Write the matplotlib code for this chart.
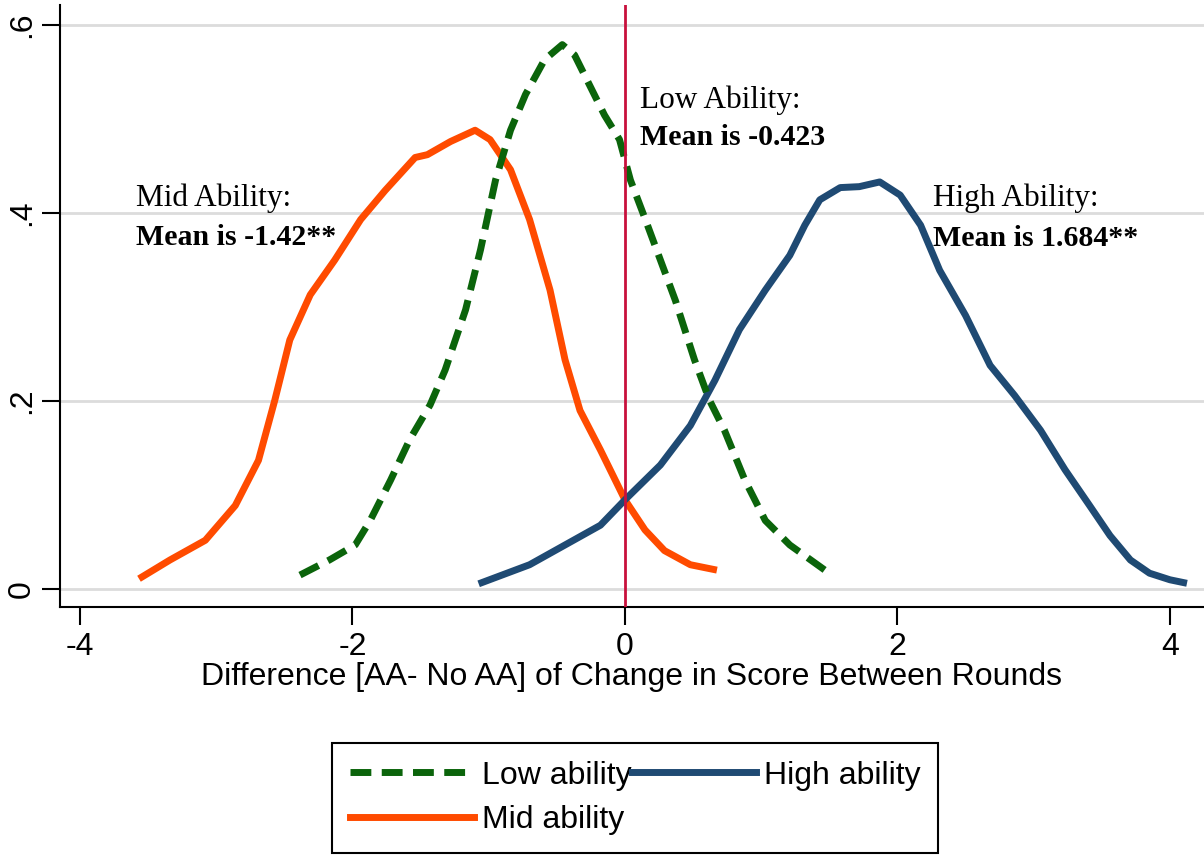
import matplotlib.pyplot as plt

# Kernel density curves
low_x = [-2.385, -2.17, -1.98, -1.87, -1.72, -1.58, -1.43, -1.32, -1.17, -1.06, -0.95, -0.84,
         -0.73, -0.59, -0.46, -0.37, -0.26, -0.15, -0.04, 0.04, 0.15, 0.26, 0.37, 0.51, 0.62,
         0.73, 0.88, 1.03, 1.21, 1.47]
low_y = [0.015, 0.031, 0.047, 0.073, 0.116, 0.159, 0.196, 0.233, 0.297, 0.361, 0.435, 0.488,
         0.526, 0.563, 0.579, 0.568, 0.536, 0.504, 0.478, 0.435, 0.393, 0.350, 0.307, 0.244, 0.201,
         0.169, 0.116, 0.073, 0.047, 0.020]

mid_x = [-3.545, -3.34, -3.08, -2.86, -2.69, -2.57, -2.46, -2.31, -2.13, -1.94, -1.76, -1.54,
         -1.45, -1.28, -1.10, -0.99, -0.84, -0.70, -0.55, -0.44, -0.33, -0.18, 0.0, 0.147, 0.29,
         0.48, 0.65]
mid_y = [0.013, 0.031, 0.052, 0.089, 0.137, 0.201, 0.265, 0.313, 0.350, 0.393, 0.424, 0.459,
         0.462, 0.476, 0.488, 0.478, 0.446, 0.393, 0.318, 0.244, 0.190, 0.148, 0.095, 0.063, 0.041,
         0.026, 0.021]

high_x = [-1.05, -0.70, -0.44, -0.18, 0.0, 0.26, 0.48, 0.66, 0.84, 1.03, 1.21, 1.32, 1.43, 1.58,
          1.72, 1.87, 2.02, 2.17, 2.31, 2.50, 2.68, 2.86, 3.05, 3.23, 3.41, 3.56, 3.71, 3.85, 4.0, 4.10]
high_y = [0.007, 0.026, 0.047, 0.068, 0.095, 0.132, 0.174, 0.222, 0.276, 0.318, 0.355, 0.387,
          0.414, 0.427, 0.428, 0.433, 0.419, 0.387, 0.339, 0.291, 0.238, 0.206, 0.169, 0.127, 0.089,
          0.057, 0.031, 0.017, 0.010, 0.007]

x_ticks = [-4, -2, 0, 2, 4]
y_ticks = [0, 0.2, 0.4, 0.6]
y_tick_labels = ["0", ".2", ".4", ".6"]

green = "#0b640b"
orange = "#ff4b00"
navy = "#1f4a73"
red = "#c8103c"

fig = plt.figure(figsize=(12.04, 8.55), dpi=100)
ax = fig.add_axes([0.0498, 0.290, 0.9502, 0.704])

ax.plot(mid_x, mid_y, color=orange, linewidth=5, label="Mid ability", zorder=3)
ax.plot(high_x, high_y, color=navy, linewidth=5, label="High ability", zorder=3)
ax.plot(low_x, low_y, color=green, linewidth=5, linestyle=(0, (3, 1.5)), label="Low ability", zorder=4)
ax.axvline(0, color=red, linewidth=2, zorder=5)

# Annotations
serif = "Liberation Serif"
fs = 22.5
ax.text(-3.59, 0.416, "Mid Ability:", fontsize=fs, family=serif, va="center")
ax.text(-3.59, 0.374, "Mean is -1.42**", fontsize=fs - 1, family=serif, fontweight="bold", va="center")
ax.text(0.11, 0.52, "Low Ability:", fontsize=fs, family=serif, va="center")
ax.text(0.11, 0.48, "Mean is -0.423", fontsize=fs - 1, family=serif, fontweight="bold", va="center")
ax.text(2.26, 0.416, "High Ability:", fontsize=fs, family=serif, va="center")
ax.text(2.26, 0.373, "Mean is 1.684**", fontsize=fs - 1, family=serif, fontweight="bold", va="center")

# Axes styling
ax.set_xlim(-4.147, 4.25)
ax.set_ylim(-0.019, 0.621)
ax.set_xticks(x_ticks)
ax.set_xticklabels([str(t) for t in x_ticks], fontsize=23, family="Liberation Sans")
ax.set_yticks(y_ticks)
ax.set_yticklabels(y_tick_labels, fontsize=23, family="Liberation Sans", rotation=90, va="center")
ax.tick_params(axis="both", direction="out", length=13, width=1.5)
ax.tick_params(axis="x", pad=5)
ax.grid(axis="y", color="#dcdcdc", linewidth=2)
ax.set_axisbelow(True)
ax.spines["top"].set_visible(False)
ax.spines["right"].set_visible(False)
ax.spines["left"].set_linewidth(1.5)
ax.spines["bottom"].set_linewidth(1.5)
ax.set_xlabel("Difference [AA- No AA] of Change in Score Between Rounds", fontsize=23,
              family="Liberation Sans", labelpad=0)

# Legend (Low, Mid in first column, High in second -> rows: Low/High, Mid)
handles, labels = ax.get_legend_handles_labels()
order = [2, 0, 1]
leg = fig.legend([handles[i] for i in order], [labels[i] for i in order],
                 loc="upper left", bbox_to_anchor=(0.2757, 0.131), ncol=2,
                 fancybox=False, framealpha=1, edgecolor="black", handlelength=3.9,
                 columnspacing=0, handletextpad=0.25, borderaxespad=0, borderpad=0.55,
                 labelspacing=0.45, prop={"family": "Liberation Sans", "size": 23})
leg.get_frame().set_linewidth(1.5)

plt.savefig("out.png", dpi=100)
